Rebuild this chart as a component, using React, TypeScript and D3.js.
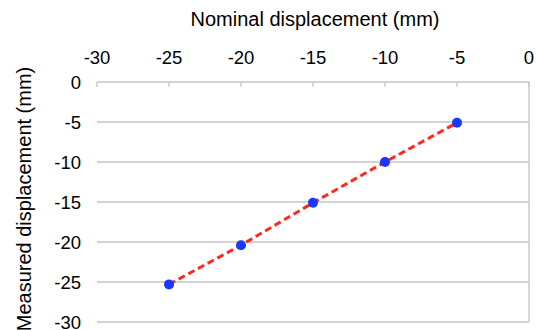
import React from "react";
import * as d3 from "d3";

const nominal = [-25, -20, -15, -10, -5];
const measured = [-25.3, -20.4, -15.1, -10.0, -5.1];
const xTicks = [-30, -25, -20, -15, -10, -5, 0];
const yTicks = [0, -5, -10, -15, -20, -25, -30];
const xTitle = "Nominal displacement (mm)";
const yTitle = "Measured displacement (mm)";

const W = 536;
const H = 330;
const left = 97;
const right = 529;
const top = 82;
const bottom = 322;
const font = "'Liberation Sans', Arial, Helvetica, sans-serif";

export default function App() {
  const x = d3.scaleLinear().domain([-30, 0]).range([left, right]);
  const y = d3.scaleLinear().domain([0, -30]).range([top, bottom]);
  const pts = nominal.map((n, i) => [n, measured[i]] as [number, number]);
  const line = d3
    .line<[number, number]>()
    .x((d) => x(d[0]))
    .y((d) => y(d[1]));

  return (
    <svg
      width={W}
      height={H}
      style={{ position: "absolute", left: 0, top: 0, background: "#fff" }}
      fontFamily={font}
    >
      <rect x={0} y={0} width={W} height={H} fill="#fff" />
      {yTicks.map((t) => (
        <line
          key={"g" + t}
          x1={left}
          x2={right}
          y1={y(t)}
          y2={y(t)}
          stroke="#c4c4c4"
          strokeWidth={1.3}
        />
      ))}
      <line x1={right} x2={right} y1={top} y2={bottom} stroke="#c4c4c4" strokeWidth={1.3} />
      {xTicks.map((t) => (
        <line
          key={"t" + t}
          x1={x(t)}
          x2={x(t)}
          y1={top}
          y2={top + 5}
          stroke="#c4c4c4"
          strokeWidth={1.3}
        />
      ))}
      {xTicks.map((t) => (
        <text
          key={"xl" + t}
          x={x(t)}
          y={64}
          textAnchor="middle"
          fontSize={18.5}
          fill="#000"
        >
          {t}
        </text>
      ))}
      {yTicks.map((t) => (
        <text
          key={"yl" + t}
          x={81}
          y={y(t)}
          dy="0.36em"
          textAnchor="end"
          fontSize={18.5}
          fill="#000"
        >
          {t}
        </text>
      ))}
      <text x={315} y={26} textAnchor="middle" fontSize={20} fill="#000">
        {xTitle}
      </text>
      <text
        transform={`translate(31, 199) rotate(-90)`}
        textAnchor="middle"
        fontSize={20}
        fill="#000"
      >
        {yTitle}
      </text>
      <path
        d={line(pts) || ""}
        fill="none"
        stroke="#ff2a1c"
        strokeWidth={3}
        strokeDasharray="7,4"
      />
      {pts.map((p, i) => (
        <circle key={"p" + i} cx={x(p[0])} cy={y(p[1])} r={5} fill="#1638ff" />
      ))}
    </svg>
  );
}
